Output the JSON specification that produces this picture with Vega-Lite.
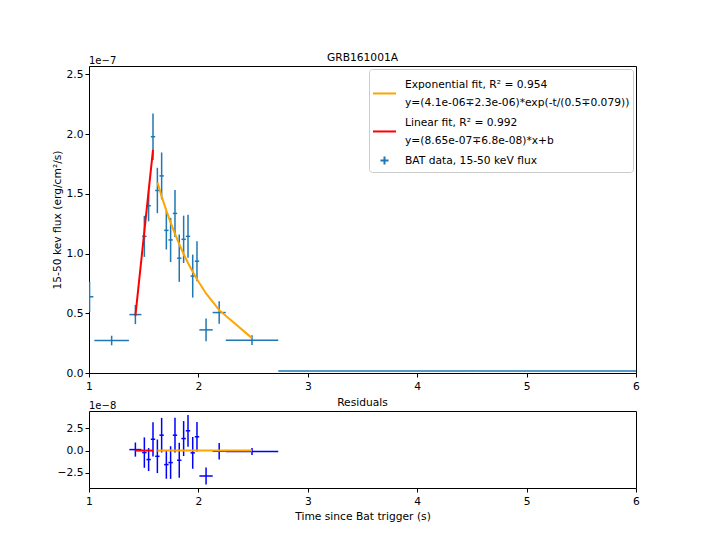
{
  "$schema": "https://vega.github.io/schema/vega-lite/v6.json",
  "padding": {"left": 50, "top": 51, "right": 5, "bottom": 5},
  "config": {
    "font": "DejaVu Sans",
    "view": {"stroke": "black", "strokeWidth": 1},
    "axis": {"grid": false, "domain": false, "tickColor": "black", "tickSize": 4, "labelColor": "black", "labelFontSize": 10.7, "titleFontSize": 10.7, "titleFontWeight": "normal", "titleColor": "black", "labelPadding": 2, "labelOverlap": false, "labelFlush": false},
    "axisX": {"labelPadding": 4},
    "title": {"fontSize": 10.7, "fontWeight": "normal", "color": "black", "offset": -8},
    "style": {"guide-label": {"lineHeight": 18}}
  },
  "datasets": {
    "bat": [
      {"t": 1.005, "tlo": 0.96, "thi": 1.04, "f": 6.38e-8, "flo": 5.13e-8, "fhi": 7.63e-8, "r": null, "rlo": null, "rhi": null},
      {"t": 1.207, "tlo": 1.049, "thi": 1.365, "f": 2.72e-8, "flo": 2.32e-8, "fhi": 3.12e-8, "r": null, "rlo": null, "rhi": null},
      {"t": 1.424, "tlo": 1.369, "thi": 1.479, "f": 4.89e-8, "flo": 4.09e-8, "fhi": 5.69e-8, "r": 0.11e-8, "rlo": -0.69e-8, "rhi": 0.91e-8},
      {"t": 1.506, "tlo": 1.486, "thi": 1.526, "f": 1.144e-7, "flo": 0.972e-7, "fhi": 1.316e-7, "r": -0.23e-8, "rlo": -1.95e-8, "rhi": 1.49e-8},
      {"t": 1.545, "tlo": 1.525, "thi": 1.565, "f": 1.40e-7, "flo": 1.27e-7, "fhi": 1.53e-7, "r": -1.02e-8, "rlo": -2.32e-8, "rhi": 0.28e-8},
      {"t": 1.585, "tlo": 1.565, "thi": 1.605, "f": 1.978e-7, "flo": 1.784e-7, "fhi": 2.172e-7, "r": 1.28e-8, "rlo": -0.66e-8, "rhi": 3.22e-8},
      {"t": 1.625, "tlo": 1.605, "thi": 1.645, "f": 1.528e-7, "flo": 1.338e-7, "fhi": 1.718e-7, "r": -0.65e-8, "rlo": -2.55e-8, "rhi": 1.25e-8},
      {"t": 1.664, "tlo": 1.644, "thi": 1.684, "f": 1.65e-7, "flo": 1.454e-7, "fhi": 1.846e-7, "r": 1.74e-8, "rlo": -0.22e-8, "rhi": 3.70e-8},
      {"t": 1.707, "tlo": 1.687, "thi": 1.727, "f": 1.194e-7, "flo": 1.034e-7, "fhi": 1.354e-7, "r": -1.59e-8, "rlo": -3.19e-8, "rhi": 0.01e-8},
      {"t": 1.746, "tlo": 1.726, "thi": 1.766, "f": 1.114e-7, "flo": 0.929e-7, "fhi": 1.299e-7, "r": -1.36e-8, "rlo": -3.21e-8, "rhi": 0.49e-8},
      {"t": 1.786, "tlo": 1.766, "thi": 1.806, "f": 1.336e-7, "flo": 1.139e-7, "fhi": 1.533e-7, "r": 1.74e-8, "rlo": -0.23e-8, "rhi": 3.71e-8},
      {"t": 1.825, "tlo": 1.805, "thi": 1.845, "f": 0.961e-7, "flo": 0.763e-7, "fhi": 1.159e-7, "r": -1.10e-8, "rlo": -3.08e-8, "rhi": 0.88e-8},
      {"t": 1.865, "tlo": 1.845, "thi": 1.885, "f": 1.119e-7, "flo": 0.921e-7, "fhi": 1.317e-7, "r": 1.36e-8, "rlo": -0.62e-8, "rhi": 3.34e-8},
      {"t": 1.905, "tlo": 1.885, "thi": 1.925, "f": 1.144e-7, "flo": 0.964e-7, "fhi": 1.324e-7, "r": 2.24e-8, "rlo": 0.44e-8, "rhi": 4.04e-8},
      {"t": 1.948, "tlo": 1.928, "thi": 1.968, "f": 0.811e-7, "flo": 0.631e-7, "fhi": 0.991e-7, "r": -0.26e-8, "rlo": -2.06e-8, "rhi": 1.54e-8},
      {"t": 1.987, "tlo": 1.967, "thi": 2.007, "f": 0.936e-7, "flo": 0.769e-7, "fhi": 1.103e-7, "r": 1.56e-8, "rlo": -0.11e-8, "rhi": 3.23e-8},
      {"t": 2.07, "tlo": 2.009, "thi": 2.131, "f": 0.361e-7, "flo": 0.265e-7, "fhi": 0.457e-7, "r": -2.88e-8, "rlo": -3.84e-8, "rhi": -1.92e-8},
      {"t": 2.19, "tlo": 2.13, "thi": 2.25, "f": 0.506e-7, "flo": 0.412e-7, "fhi": 0.600e-7, "r": -0.08e-8, "rlo": -1.02e-8, "rhi": 0.86e-8},
      {"t": 2.49, "tlo": 2.25, "thi": 2.73, "f": 0.275e-7, "flo": 0.235e-7, "fhi": 0.315e-7, "r": -0.10e-8, "rlo": -0.50e-8, "rhi": 0.30e-8},
      {"t": 4.5, "tlo": 2.73, "thi": 6.27, "f": 1.7e-9, "flo": 1.6e-9, "fhi": 1.8e-9, "r": null, "rlo": null, "rhi": null}
    ],
    "fits": [
      {"fit": "lin", "t": 1.424, "f": 4.78e-8},
      {"fit": "lin", "t": 1.506, "f": 1.186e-7},
      {"fit": "lin", "t": 1.545, "f": 1.522e-7},
      {"fit": "lin", "t": 1.585, "f": 1.867e-7},
      {"fit": "exp", "t": 1.625, "f": 1.597e-7},
      {"fit": "exp", "t": 1.664, "f": 1.479e-7},
      {"fit": "exp", "t": 1.707, "f": 1.359e-7},
      {"fit": "exp", "t": 1.746, "f": 1.259e-7},
      {"fit": "exp", "t": 1.786, "f": 1.164e-7},
      {"fit": "exp", "t": 1.825, "f": 1.078e-7},
      {"fit": "exp", "t": 1.865, "f": 0.996e-7},
      {"fit": "exp", "t": 1.905, "f": 0.921e-7},
      {"fit": "exp", "t": 1.948, "f": 0.847e-7},
      {"fit": "exp", "t": 1.987, "f": 0.784e-7},
      {"fit": "exp", "t": 2.07, "f": 0.666e-7},
      {"fit": "exp", "t": 2.19, "f": 0.526e-7},
      {"fit": "exp", "t": 2.49, "f": 0.292e-7}
    ],
    "leg": [
      {"series": "Exponential fit, R² = 0.954|y=(4.1e-06∓2.3e-06)*exp(-t/(0.5∓0.079))"},
      {"series": "Linear fit, R² = 0.992|y=(8.65e-07∓6.8e-08)*x+b"},
      {"series": "BAT data, 15-50 keV flux"}
    ]
  },
  "spacing": 38,
  "bounds": "flush",
  "resolve": {"scale": {"color": "independent", "shape": "independent"}},
  "vconcat": [
    {
      "width": 547,
      "height": 307,
      "title": "GRB161001A",
      "layer": [
        {
          "data": {"name": "bat"},
          "mark": {"type": "rule", "color": "#1f77b4", "strokeWidth": 1.5, "clip": true},
          "encoding": {
            "x": {"field": "tlo", "type": "quantitative", "scale": {"domain": [1, 6], "nice": false, "zero": false}, "axis": {"values": [1, 2, 3, 4, 5, 6], "format": "d", "title": null}},
            "x2": {"field": "thi"},
            "y": {"field": "f", "type": "quantitative", "scale": {"domain": [0, 2.57e-7], "nice": false, "zero": false}, "axis": {"values": [0, 5e-8, 1e-7, 1.5e-7, 2e-7, 2.5e-7], "labelExpr": "format(datum.value*1e7, '.1f')", "title": "15-50 kev flux (erg/cm²/s)", "titlePadding": 4}}
          }
        },
        {
          "data": {"name": "bat"},
          "mark": {"type": "rule", "color": "#1f77b4", "strokeWidth": 1.5, "clip": true},
          "encoding": {
            "x": {"field": "t", "type": "quantitative"},
            "y": {"field": "flo", "type": "quantitative"},
            "y2": {"field": "fhi"}
          }
        },
        {
          "data": {"name": "fits"},
          "transform": [{"filter": "datum.fit == 'exp'"}],
          "mark": {"type": "line", "color": "#ffa500", "strokeWidth": 2, "clip": true},
          "encoding": {
            "x": {"field": "t", "type": "quantitative"},
            "y": {"field": "f", "type": "quantitative"}
          }
        },
        {
          "data": {"name": "fits"},
          "transform": [{"filter": "datum.fit == 'lin'"}],
          "mark": {"type": "line", "color": "#ff0000", "strokeWidth": 2, "clip": true},
          "encoding": {
            "x": {"field": "t", "type": "quantitative"},
            "y": {"field": "f", "type": "quantitative"}
          }
        },
        {
          "data": {"name": "leg"},
          "transform": [{"filter": "false"}],
          "mark": {"type": "point", "filled": false, "opacity": 1},
          "encoding": {
            "color": {
              "field": "series", "type": "nominal",
              "scale": {"domain": ["Exponential fit, R² = 0.954|y=(4.1e-06∓2.3e-06)*exp(-t/(0.5∓0.079))", "Linear fit, R² = 0.992|y=(8.65e-07∓6.8e-08)*x+b", "BAT data, 15-50 keV flux"], "range": ["#ffa500", "#ff0000", "#1f77b4"]},
              "legend": {
                "title": null, "orient": "top-right", "offset": 3,
                "labelFontSize": 10.7, "labelColor": "black", "labelLimit": 400, "labelOffset": 8,
                "symbolSize": 529, "symbolStrokeWidth": 2, "symbolFillColor": "transparent",
                "padding": 3, "rowPadding": 2,
                "strokeColor": "#cccccc", "fillColor": "rgba(255,255,255,0.8)", "cornerRadius": 3,
                "labelExpr": "split(datum.label, '|')"
              }
            },
            "shape": {
              "field": "series", "type": "nominal",
              "scale": {"domain": ["Exponential fit, R² = 0.954|y=(4.1e-06∓2.3e-06)*exp(-t/(0.5∓0.079))", "Linear fit, R² = 0.992|y=(8.65e-07∓6.8e-08)*x+b", "BAT data, 15-50 keV flux"], "range": ["M-1,0.78H1", "M-1,0.78H1", "M-0.35,0H0.35M0,-0.35V0.35"]}
            }
          }
        },
        {
          "data": {"values": [{"label": "1e−7"}]},
          "mark": {"type": "text", "align": "left", "baseline": "alphabetic", "dy": -2, "fontSize": 10, "color": "black"},
          "encoding": {
            "x": {"datum": 1},
            "y": {"datum": 2.57e-7},
            "text": {"field": "label"}
          }
        }
      ]
    },
    {
      "width": 547,
      "height": 77,
      "title": "Residuals",
      "layer": [
        {
          "data": {"name": "bat"},
          "transform": [{"filter": "isValid(datum.r)"}],
          "mark": {"type": "rule", "color": "#0000ff", "strokeWidth": 1.5, "clip": true},
          "encoding": {
            "x": {"field": "tlo", "type": "quantitative", "scale": {"domain": [1, 6], "nice": false, "zero": false}, "axis": {"values": [1, 2, 3, 4, 5, 6], "format": "d", "title": "Time since Bat trigger (s)", "titlePadding": 6}},
            "x2": {"field": "thi"},
            "y": {"field": "r", "type": "quantitative", "scale": {"domain": [-4.24e-8, 4.48e-8], "nice": false, "zero": false}, "axis": {"values": [-2.5e-8, 0, 2.5e-8], "labelExpr": "format(datum.value*1e8, '.1f')", "title": null}}
          }
        },
        {
          "data": {"name": "bat"},
          "transform": [{"filter": "isValid(datum.r)"}],
          "mark": {"type": "rule", "color": "#0000ff", "strokeWidth": 1.5, "clip": true},
          "encoding": {
            "x": {"field": "t", "type": "quantitative"},
            "y": {"field": "rlo", "type": "quantitative", "axis": {"values": [-2.5e-8, 0, 2.5e-8], "labelExpr": "format(datum.value*1e8, '.1f')", "title": null}},
            "y2": {"field": "rhi"}
          }
        },
        {
          "data": {"name": "fits"},
          "transform": [{"filter": "datum.fit == 'lin'"}],
          "mark": {"type": "line", "color": "#ff0000", "strokeWidth": 2, "clip": true},
          "encoding": {
            "x": {"field": "t", "type": "quantitative"},
            "y": {"datum": 0, "type": "quantitative", "axis": {"values": [-2.5e-8, 0, 2.5e-8], "labelExpr": "format(datum.value*1e8, '.1f')", "title": null}}
          }
        },
        {
          "data": {"name": "fits"},
          "transform": [{"filter": "datum.fit == 'exp'"}],
          "mark": {"type": "line", "color": "#ffa500", "strokeWidth": 2, "clip": true},
          "encoding": {
            "x": {"field": "t", "type": "quantitative"},
            "y": {"datum": 0, "type": "quantitative", "axis": {"values": [-2.5e-8, 0, 2.5e-8], "labelExpr": "format(datum.value*1e8, '.1f')", "title": null}}
          }
        },
        {
          "data": {"values": [{"label": "1e−8"}]},
          "mark": {"type": "text", "align": "left", "baseline": "alphabetic", "dy": -2, "fontSize": 10, "color": "black"},
          "encoding": {
            "x": {"datum": 1},
            "y": {"datum": 4.48e-8, "type": "quantitative", "axis": {"values": [-2.5e-8, 0, 2.5e-8], "labelExpr": "format(datum.value*1e8, '.1f')", "title": null}},
            "text": {"field": "label"}
          }
        }
      ]
    }
  ]
}
